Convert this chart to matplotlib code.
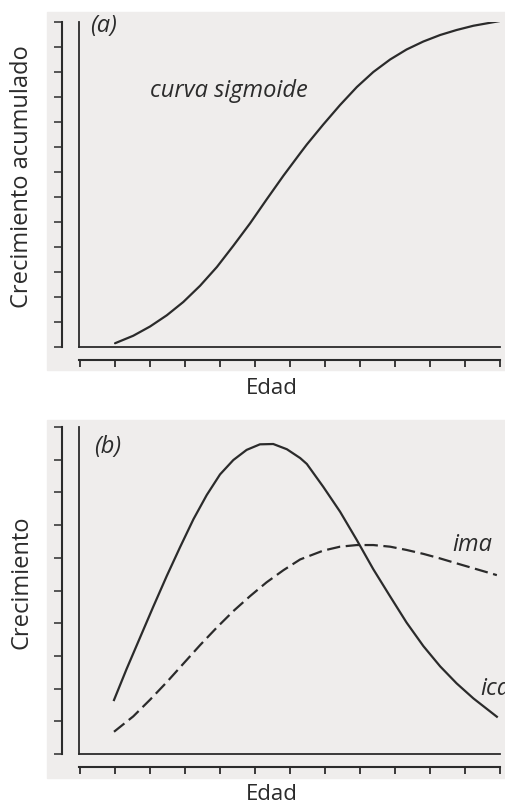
import matplotlib.pyplot as plt
from matplotlib.patches import Rectangle

# panel (a): cumulative growth, sigmoid
edad_a = [1.0, 1.52, 2.0, 2.48, 2.95, 3.43, 3.91, 4.38, 4.86, 5.33, 5.81, 6.29, 6.48, 6.95,
          7.43, 7.91, 8.38, 8.86, 9.33, 9.81, 10.29, 10.76, 11.24, 12.0]
acum_a = [0.15, 0.45, 0.82, 1.27, 1.80, 2.45, 3.20, 4.05, 4.95, 5.90, 6.85, 7.75, 8.10, 8.90,
          9.68, 10.40, 11.00, 11.50, 11.90, 12.22, 12.48, 12.68, 12.85, 13.04]

# panel (b): current (ica) and mean (ima) increments
edad_ica = [0.97, 1.33, 1.71, 2.09, 2.48, 2.86, 3.24, 3.62, 4.0, 4.38, 4.76, 5.14, 5.52, 5.91,
            6.29, 6.48, 6.95, 7.43, 7.91, 8.38, 8.86, 9.33, 9.81, 10.29, 10.76, 11.24, 11.91]
ica = [1.65, 2.60, 3.55, 4.50, 5.45, 6.33, 7.18, 7.92, 8.55, 8.99, 9.30, 9.47, 9.48, 9.32,
       9.05, 8.87, 8.17, 7.41, 6.54, 5.65, 4.82, 4.02, 3.30, 2.68, 2.16, 1.70, 1.14]
edad_ima = [0.97, 1.52, 2.0, 2.48, 2.95, 3.43, 3.91, 4.38, 4.86, 5.33, 5.81, 6.29, 6.95, 7.43,
            7.91, 8.38, 8.86, 9.33, 9.81, 10.29, 10.76, 11.24, 11.91]
ima = [0.68, 1.15, 1.66, 2.20, 2.76, 3.33, 3.87, 4.37, 4.83, 5.25, 5.62, 5.95, 6.22, 6.34,
       6.39, 6.39, 6.34, 6.24, 6.12, 5.98, 5.83, 5.68, 5.47]

ticks_x = list(range(13))
ticks_ya = list(range(14))
ticks_yb = list(range(11))

ink = "#2b2b2b"
paper = "#efedec"
W, H = 506, 805

fig = plt.figure(figsize=(5.06, 8.05), dpi=100)
fig.patch.set_facecolor("white")

# scanned page background behind each panel
for top, bot in [(12, 370), (420, 778)]:
    fig.patches.append(Rectangle((47 / W, 1 - bot / H), 1 - 47 / W, (bot - top) / H,
                                 transform=fig.transFigure, color=paper, zorder=-10))


def make_panel(rect, ymax, yticks):
    ax = fig.add_axes(rect)
    ax.patch.set_alpha(0)
    for s in ["top", "right"]:
        ax.spines[s].set_visible(False)
    for s in ["left", "bottom"]:
        ax.spines[s].set_color(ink)
        ax.spines[s].set_linewidth(1.3)
    ax.set_xticks([])
    ax.set_yticks([])
    ax.set_xlim(-0.03, 12)
    ax.set_ylim(0, ymax)

    # ruler axes outside the plot
    r = fig.add_axes(rect)
    r.patch.set_alpha(0)
    for s in ["top", "right"]:
        r.spines[s].set_visible(False)
    r.spines["left"].set_position(("outward", 12))
    r.spines["bottom"].set_position(("outward", 9))
    for s in ["left", "bottom"]:
        r.spines[s].set_color(ink)
        r.spines[s].set_linewidth(1.5)
    r.set_xlim(-0.03, 12)
    r.set_ylim(0, ymax)
    r.set_xticks(ticks_x)
    r.set_yticks(yticks)
    r.tick_params(axis="y", direction="out", length=6, width=1.1, color=ink, labelleft=False)
    r.tick_params(axis="x", direction="out", length=5, width=1.3, color=ink, labelbottom=False)
    return ax


font = ["Open Sans", "DejaVu Sans"]
lab = dict(fontsize=17, style="italic", family=font, color=ink, va="center", clip_on=False)

ax1 = make_panel([79 / W, 1 - 347 / H, 421 / W, 325 / H], 13, ticks_ya)
ax1.plot(edad_a, acum_a, color=ink, lw=1.6, solid_capstyle="round")
ax1.text(0.3, 12.85, "(a)", **lab)
ax1.text(2.0, 10.25, "curva sigmoide", **lab)

ax2 = make_panel([79 / W, 1 - 754 / H, 421 / W, 327 / H], 10, ticks_yb)
ax2.plot(edad_ica, ica, color=ink, lw=1.6)
ax2.plot(edad_ima, ima, color=ink, lw=1.6, dashes=(6, 2.5))
ax2.text(0.4, 9.4, "(b)", **lab)
ax2.text(10.63, 6.4, "ima", **lab)
# cut off at the right edge, as in the scan
ax2.text(11.43, 2.0, "ica", **lab)

fig.text(22 / W, 1 - 177 / H, "Crecimiento acumulado", rotation=90, fontsize=17, family=font,
         color=ink, ha="center", va="center")
fig.text(22 / W, 1 - 582 / H, "Crecimiento", rotation=90, fontsize=17, family=font,
         color=ink, ha="center", va="center")
fig.text(272 / W, 1 - 388 / H, "Edad", fontsize=16, family=font, color=ink, ha="center", va="center")
fig.text(272 / W, 1 - 794 / H, "Edad", fontsize=16, family=font, color=ink, ha="center", va="center")

fig.savefig("out.png", dpi=100)
